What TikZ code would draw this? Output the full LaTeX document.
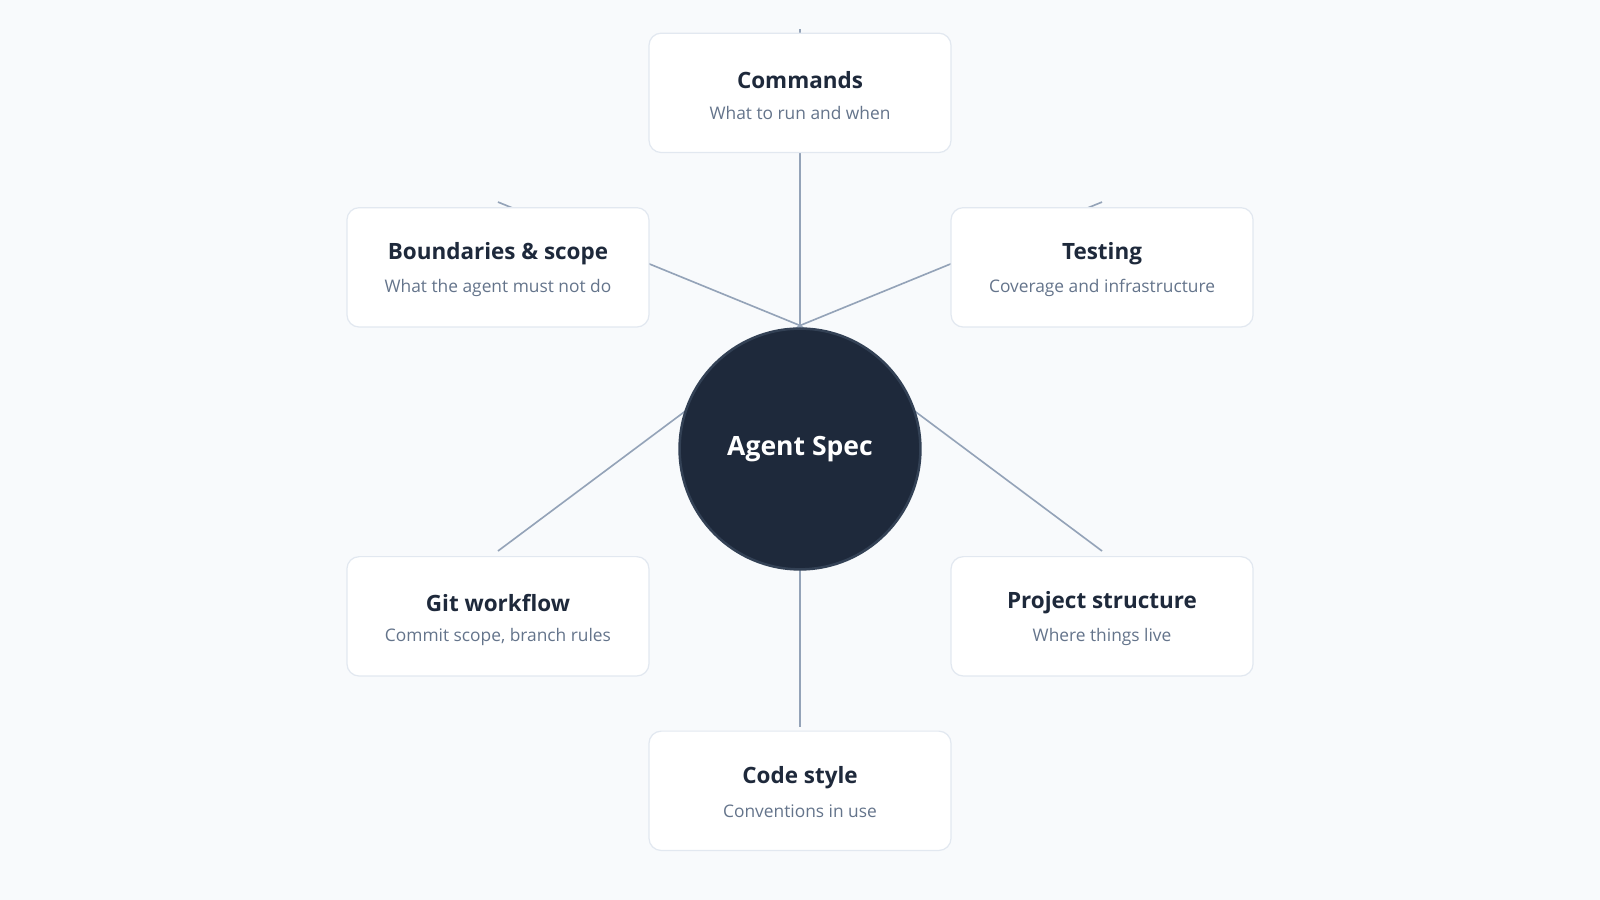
\documentclass[tikz,border=0pt]{standalone}
\usepackage{fontspec}
\setmainfont{Open Sans}
\definecolor{bg}{HTML}{F8FAFC}
\definecolor{edge}{HTML}{94A3B8}
\definecolor{bord}{HTML}{E2E8F0}
\definecolor{dark}{HTML}{1E293B}
\definecolor{ring}{HTML}{334155}
\definecolor{sub}{HTML}{64748B}
\begin{document}
\begin{tikzpicture}[x=1pt,y=-1pt,
  card/.style={draw=bord,line width=1.2pt,fill=white,rounded corners=12pt,minimum width=296pt,minimum height=117pt,inner sep=0pt},
  conn/.style={draw=edge,line width=1.6pt},
  ttl/.style={font=\fontsize{22}{26}\selectfont\bfseries,text=dark},
  sbt/.style={font=\fontsize{17}{20}\selectfont,text=sub}]
\fill[bg] (0,0) rectangle (1568,882);
\useasboundingbox (0,0) rectangle (1568,882);
\coordinate (hub) at (784,319);
\coordinate (e1) at (784,28);
\coordinate (e2) at (488,198);
\coordinate (e3) at (1080,198);
\coordinate (e4) at (488,540);
\coordinate (e5) at (1080,540);
\coordinate (e6) at (784,712);
\foreach \e in {e1,e2,e3,e4,e5,e6} \draw[conn] (hub) -- (\e);
\node[circle,fill=dark,draw=ring,line width=2.5pt,minimum size=236pt] (c) at (784,440) {};
\node[font=\fontsize{26}{30}\selectfont\bfseries,text=white] (ct) at (784,440) {Agent Spec};
\foreach \n/\x/\y/\t/\s in {
  cmd/784/91/Commands/What to run and when,
  bnd/488/262/Boundaries \& scope/What the agent must not do,
  tst/1080/262/Testing/Coverage and infrastructure,
  git/488/604/Git workflow/{Commit scope, branch rules},
  prj/1080/604/Project structure/Where things live,
  cod/784/775/Code style/Conventions in use}{
  \node[card] (\n) at (\x,\y) {};
  \node[ttl] (\n t) at (\x,\y-13) {\t};
  \node[sbt] (\n s) at (\x,\y+20) {\s};
}
\end{tikzpicture}
\end{document}
